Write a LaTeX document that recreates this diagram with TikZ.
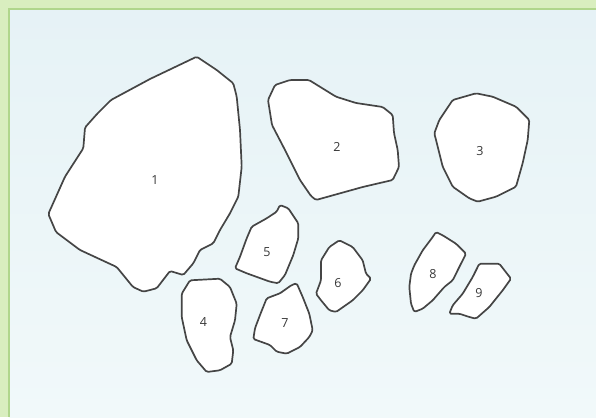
\documentclass[tikz,border=0pt]{standalone}
\usepackage{fontspec}
\setsansfont{Open Sans}
\usetikzlibrary{calc, positioning}

\definecolor{framegreen}{HTML}{D9EEBF}
\definecolor{frameline}{HTML}{B0D68C}
\definecolor{skytop}{HTML}{E6F2F6}
\definecolor{skybottom}{HTML}{F1F9FA}
\definecolor{stoneline}{HTML}{454545}
\definecolor{numgray}{HTML}{383838}

\tikzset{
  stone/.style={draw=stoneline, fill=white, line width=1.7pt, line join=round,
    rounded corners=1.5pt},
  numlabel/.style={font=\sffamily\fontsize{12.5}{14}\selectfont, text=numgray, inner sep=1pt}
}

\begin{document}
\begin{tikzpicture}[x=1pt, y=-1pt]
\def\picw{596}
\def\pich{417}
\def\band{9}

\useasboundingbox (0,0) rectangle (\picw,\pich);

\fill[framegreen] (0,0) rectangle (\picw,\pich);
\shade[top color=skytop, bottom color=skybottom]
  (\band,\band) rectangle (\picw,\pich);
\draw[frameline, line width=2pt] (\band,\pich) -- (\band,\band) -- (\picw,\band);

\draw[stone] (196.7,56.7) -- (216.7,70) -- (233.3,83.3) -- (236.7,96.7)
  -- (240,130) -- (241.7,166.7) -- (238.3,196.7) -- (230,213.3) -- (220,230)
  -- (213.3,243.3) -- (200,250) -- (193.3,263.3) -- (183.3,275) -- (170,271)
  -- (156.7,288.3) -- (143.3,291.7) -- (133,287) -- (116.7,267) -- (80,250)
  -- (56,232) -- (48.3,214) -- (65,176.7) -- (83.3,148.3) -- (85,127.5)
  -- (97,114) -- (111,100) -- (150,79) -- cycle;

\draw[stone] (268,100) -- (275,85) -- (290,80) -- (309,80) -- (336,96.7)
  -- (356,103) -- (382.7,107) -- (392.7,115) -- (394,133) -- (397.7,150)
  -- (399,167) -- (392.7,180) -- (362.7,187) -- (316,200) -- (311,196)
  -- (300,180) -- (285,150) -- (272,125) -- cycle;

\draw[stone] (439.3,120) -- (452.7,100) -- (476,93.3) -- (492.7,96.7)
  -- (516,106.7) -- (529.3,120) -- (527.7,140) -- (522.7,163) -- (516,186.7)
  -- (496,196.7) -- (477.7,201.7) -- (469.3,198.3) -- (452.7,186.7)
  -- (442.7,166.7) -- (437.7,146.7) -- (434.3,133.3) -- cycle;

\draw[stone] (190,280.3) -- (220,278.7) -- (230,287) -- (236.7,303.7)
  -- (235,320.3) -- (230,337) -- (233.3,350.3) -- (231.7,363.7) -- (220,370.3)
  -- (206.7,372) -- (196.7,360.3) -- (186.7,340.3) -- (181.7,317)
  -- (181.7,293.7) -- cycle;

\draw[stone] (280,205) -- (288.3,208.3) -- (298.3,223.3) -- (298.3,238.3)
  -- (293.3,255) -- (285,275) -- (278.3,283.3) -- (270,281.7) -- (246.7,273.3)
  -- (235,268.3) -- (240,256.7) -- (246.7,238.3) -- (251.7,226.7)
  -- (266.7,218.3) -- (276.7,211.7) -- cycle;

\draw[stone] (329.3,247) -- (339.3,240.3) -- (352.7,247) -- (362.7,260.3)
  -- (366,273.7) -- (371,278.7) -- (362.7,290.3) -- (352.7,300.3) -- (336,312)
  -- (329.3,310.3) -- (321,300.3) -- (316,293.7) -- (321,280.3)
  -- (321,260.3) -- cycle;

\draw[stone] (291.7,285) -- (296.7,283.3) -- (302.7,297) -- (309.3,313.7)
  -- (312.7,330.3) -- (309.3,337) -- (300,347) -- (286.7,353.7) -- (276.7,351.7)
  -- (270,345) -- (253.3,339) -- (255,328.3) -- (260,315) -- (266.7,298.3)
  -- (280,293.3) -- cycle;

\draw[stone] (436,232) -- (442.7,235.3) -- (456,243.7) -- (466,253.7)
  -- (459.3,267) -- (452.7,280.3) -- (444.3,287) -- (432.7,300.3)
  -- (422.7,308.7) -- (414.3,312) -- (411,303.7) -- (409.3,287) -- (411,273.7)
  -- (414.3,265.3) -- (422.7,250.3) -- (432.7,237) -- cycle;

\draw[stone] (479.3,263.7) -- (499.3,263.7) -- (511,278.7) -- (502.7,290.3)
  -- (489.3,307) -- (476,318.7) -- (469.3,317) -- (459.3,313.7)
  -- (449.3,313.7) -- (452.7,305.3) -- (462.7,293.7) -- (472.7,277) -- cycle;

\node[numlabel] (n1) at (155,180) {1};
\node[numlabel] (n2) at (337,147) {2};
\node[numlabel] (n3) at (480,151) {3};
\node[numlabel] (n4) at (203.5,322) {4};
\node[numlabel] (n5) at (267,252) {5};
\node[numlabel] (n6) at (338,283) {6};
\node[numlabel] (n7) at (285,323) {7};
\node[numlabel] (n8) at (433,274) {8};
\node[numlabel] (n9) at (479,293) {9};

\end{tikzpicture}
\end{document}
